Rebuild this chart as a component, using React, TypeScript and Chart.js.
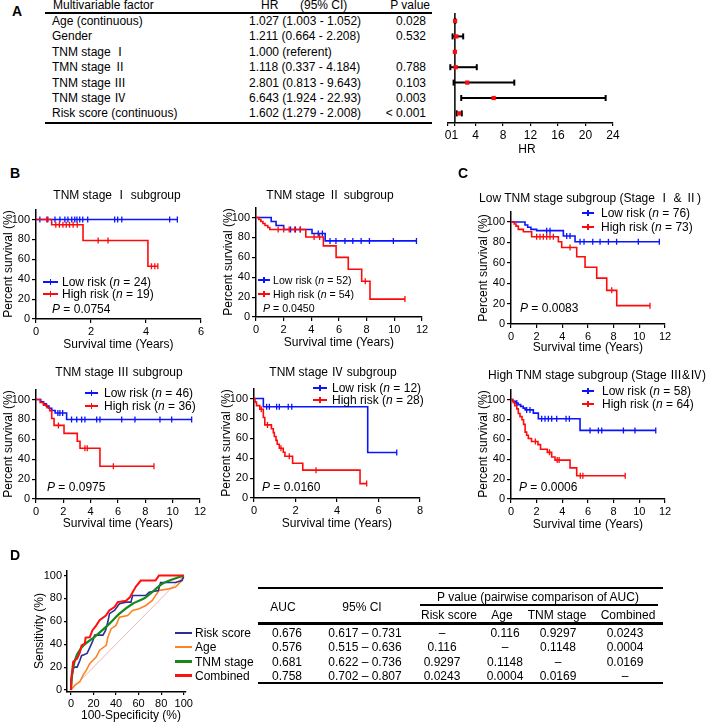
import React, { useEffect, useRef } from "react";
import { Chart, registerables } from "chart.js";

Chart.register(...registerables);

const FONT = '"Liberation Sans", Arial, "Noto Sans CJK SC", "DejaVu Sans", sans-serif';
Chart.defaults.font.family = FONT;
Chart.defaults.color = "#000";

const BLUE = "#0a14ff";
const RED = "#ff0a0a";

// ---------------- Panel A data ----------------
const factorNames = ["Age (continuous)", "Gender", "TNM stage Ⅰ", "TMN stage Ⅱ", "TNM stage Ⅲ", "TNM stage Ⅳ", "Risk score (continuous)"];
const hrLabels = ["1.027 (1.003 - 1.052)", "1.211 (0.664 - 2.208)", "1.000 (referent)", "1.118 (0.337 - 4.184)", "2.801 (0.813 - 9.643)", "6.643 (1.924 - 22.93)", "1.602 (1.279 - 2.008)"];
const pLabels = ["0.028", "0.532", "", "0.788", "0.103", "0.003", "< 0.001"];
const hrValues = [1.027, 1.211, 1.0, 1.118, 2.801, 6.643, 1.602];
const ciLow = [1.003, 0.664, NaN, 0.337, 0.813, 1.924, 1.279];
const ciHigh = [1.052, 2.208, NaN, 4.184, 9.643, 22.93, 2.008];
const forestTicks = [0, 1, 4, 8, 12, 16, 20, 24];

// ---------------- Kaplan-Meier data (years, % survival) ----------------
const ticks6 = [0, 2, 4, 6];
const ticks8 = [0, 2, 4, 6, 8];
const ticks12 = [0, 2, 4, 6, 8, 10, 12];
const kmYTicks = [0, 20, 40, 60, 80, 100];

const stage1LowTimes: number[] = [];
const stage1LowSurv: number[] = [];
const stage1LowCensor = [0.14, 0.43, 0.69, 0.87, 1.05, 1.16, 1.3, 1.41, 1.49, 1.59, 1.7, 1.88, 2.86, 2.97, 3.12, 4.86, 5.14];
const stage1HighTimes = [0.57, 1.71, 4.07];
const stage1HighSurv = [94.7, 79, 53];
const stage1HighCensor = [0.39, 0.72, 0.85, 0.98, 1.1, 1.22, 1.35, 1.5, 2.26, 2.62, 4.2, 4.32, 4.43];

const stage2LowTimes = [1.1, 1.45, 2.0, 4.05, 5.0];
const stage2LowSurv = [96, 92, 88, 84, 76.5];
const stage2LowCensor = [2.5, 2.85, 3.2, 4.5, 4.8, 5.35, 5.78, 6.43, 7.0, 7.6, 8.2, 9.93, 11.6];
const stage2HighTimes = [0.2, 0.35, 0.5, 0.65, 0.85, 1.0, 3.6, 4.87, 5.79, 6.67, 7.64, 8.24];
const stage2HighSurv = [98, 96, 94, 92, 90, 88, 80.5, 71.5, 60, 48, 36, 18];
const stage2HighCensor = [1.6, 2.0, 2.4, 2.8, 3.2, 4.2, 4.6, 7.9, 10.77];

const stage3LowTimes = [0.35, 0.55, 0.75, 0.95, 1.15, 1.4, 2.24];
const stage3LowSurv = [97.8, 95.6, 93.4, 91.2, 89, 86.5, 80];
const stage3LowCensor = [1.6, 1.75, 1.95, 2.6, 2.98, 3.34, 3.58, 4.44, 4.68, 6.27, 7.24, 9.07, 9.93, 11.39];
const stage3HighTimes = [0.3, 0.55, 0.8, 1.0, 1.15, 1.32, 2.05, 3.02, 3.22, 4.68];
const stage3HighSurv = [97, 94.4, 91.7, 88.9, 81, 74, 66, 58, 51, 33];
const stage3HighCensor = [1.64, 3.58, 3.75, 5.66, 8.63];

const stage4LowTimes = [0.45, 5.48];
const stage4LowSurv = [91.7, 45.8];
const stage4LowCensor = [0.61, 0.74, 1.09, 1.22, 1.65, 1.82, 6.88];
const stage4HighTimes = [0.05, 0.12, 0.28, 0.45, 0.52, 0.84, 0.93, 0.98, 1.06, 1.12, 1.22, 1.41, 1.49, 1.86, 2.35, 5.11];
const stage4HighSurv = [96.4, 92.9, 89.3, 81, 73.5, 69.6, 65.7, 61.8, 57.9, 54, 50, 46, 42, 35, 28, 14.5];
const stage4HighCensor = [0.35, 0.65, 1.3, 1.7, 2.99, 5.43];

const lowTnmLowTimes = [1.09, 1.3, 1.55, 2.0, 4.08, 4.99];
const lowTnmLowSurv = [97, 94.8, 92.8, 91.5, 86.3, 80.7];
const lowTnmLowCensor = [2.78, 3.04, 4.34, 4.6, 5.38, 5.69, 6.37, 6.94, 7.59, 8.23, 9.92, 11.56];
const lowTnmHighTimes = [0.25, 0.39, 0.57, 0.96, 1.61, 3.69, 3.95, 5.12, 5.77, 6.68, 7.46, 8.24];
const lowTnmHighSurv = [98, 96, 92.8, 90.5, 85.6, 80.7, 75, 66, 55.6, 45, 33, 18];
const lowTnmHighCensor = [2.0, 2.26, 2.52, 2.78, 3.04, 3.3, 4.6, 7.85, 10.83];

const highTnmLowTimes = [0.15, 0.35, 0.55, 0.75, 0.95, 1.1, 1.74, 2.13, 5.38];
const highTnmLowSurv = [98.3, 96.6, 94.9, 93.1, 91.4, 89.6, 86.3, 80.7, 69];
const highTnmLowCensor = [0.45, 1.22, 1.48, 2.39, 2.65, 2.91, 3.17, 3.56, 4.29, 4.55, 6.16, 6.81, 7.07, 8.76, 9.66, 11.28];
const highTnmHighTimes = [0.1, 0.18, 0.3, 0.45, 0.57, 0.7, 0.86, 0.98, 1.1, 1.22, 1.35, 1.6, 2.1, 2.3, 2.83, 3.17, 3.43, 4.6, 5.12];
const highTnmHighSurv = [98.4, 96.9, 93.8, 90.6, 85.9, 82.8, 79.7, 75, 67.2, 64.1, 60.9, 57.8, 54.7, 50, 46.9, 42.2, 39.1, 31.3, 23.4];
const highTnmHighCensor = [1.9, 3.0, 3.6, 3.75, 5.4, 5.6, 8.9];

// ---------------- Panel D data ----------------
const rocTicks = [0, 20, 40, 60, 80, 100];
const riskFpr = [0, 0, 2.6, 5.5, 8, 9.4, 14.3, 16.7, 19.6, 21, 28.4, 30.7, 32.7, 34.2, 38.6, 43, 48.8, 53.2, 54.7, 66.4, 69.3, 77.5, 79.5, 92.7, 98.5, 100];
const riskTpr = [0, 8.7, 20, 20, 26, 30, 32, 37, 43.5, 48, 48, 52, 59.4, 66.7, 69.6, 75.4, 76.8, 76.8, 82.6, 82.6, 85.5, 87, 94, 94, 95.7, 99];
const ageFpr = [0, 3.5, 7.9, 10.8, 13.7, 16.7, 19.6, 22.5, 25.4, 31.3, 32.7, 35.7, 40, 43, 50.3, 54.7, 60.5, 66.4, 72.2, 78, 86.8, 92.7, 97, 100];
const ageTpr = [0, 4.3, 7.2, 13, 17.4, 23.2, 26, 29, 34.8, 39, 46, 53.6, 56.5, 63.7, 65, 69.6, 71, 73.9, 78.3, 87, 88.4, 89.9, 94.2, 100];
const tnmFpr = [0, 1, 3.5, 9.4, 21, 34.2, 43, 54.7, 66.4, 81, 100];
const tnmTpr = [0, 13, 26, 37, 46.4, 58, 66.7, 75.4, 81, 92.8, 100];
const combFpr = [0, 0.6, 2, 5.5, 8, 9.4, 12.3, 13, 16.7, 19, 22.5, 25.4, 31, 34, 38.6, 41.5, 48.8, 52.3, 54.7, 57.6, 62, 75, 78, 100];
const combTpr = [0, 13, 24.6, 27.5, 33, 39, 40.6, 45.8, 46, 52, 56.5, 61, 65, 69.5, 72.5, 76.8, 78, 81, 85.5, 90.4, 95.7, 95.7, 100, 100];
const refDiag = [0, 100];

const rocNames = ["Risk score", "Age", "TNM stage", "Combined"];
const aucValues = ["0.676", "0.576", "0.681", "0.758"];
const aucCI = ["0.617 – 0.731", "0.515 – 0.636", "0.622 – 0.736", "0.702 – 0.807"];
const pairHeaders = ["Risk score", "Age", "TNM stage", "Combined"];
const pairP = [
  ["–", "0.116", "0.9297", "0.0243"],
  ["0.116", "–", "0.1148", "0.0004"],
  ["0.9297", "0.1148", "–", "0.0169"],
  ["0.0243", "0.0004", "0.0169", "–"],
];

// ---------------- helpers ----------------
type Curve = { times: number[]; surv: number[]; end: number; censor: number[] };
const curve = (times: number[], surv: number[], censor: number[]): Curve => ({
  times, surv, censor, end: censor[censor.length - 1],
});

function stepPoints(c: Curve) {
  const pts = [{ x: 0, y: 100 }];
  c.times.forEach((t, i) => pts.push({ x: t, y: c.surv[i] }));
  pts.push({ x: c.end, y: c.surv.length ? c.surv[c.surv.length - 1] : 100 });
  return pts;
}
function survAt(c: Curve, t: number) {
  let s = 100;
  c.times.forEach((ti, i) => { if (ti <= t) s = c.surv[i]; });
  return s;
}

function linAxis(min: number, max: number, ticks: number[], size: number, fontSize: number, horizontal: boolean, tickLen = 4, extra: any = {}) {
  return {
    type: "linear",
    min, max,
    afterBuildTicks: (s: any) => { s.ticks = ticks.map((v) => ({ value: v })); },
    afterFit: (s: any) => { if (horizontal) s.height = size; else s.width = size; },
    ticks: { font: { family: FONT, size: fontSize }, color: "#000", padding: 2, maxRotation: 0, minRotation: 0, autoSkip: false },
    grid: { drawOnChartArea: false, drawTicks: true, tickLength: tickLen, color: "#000", lineWidth: 1.2 },
    border: { display: true, color: "#000", width: 1.5 },
    ...extra,
  };
}

function ChartCanvas({ left, top, width, height, make }: any) {
  const ref = useRef<HTMLCanvasElement>(null);
  useEffect(() => {
    const chart = new Chart(ref.current as HTMLCanvasElement, make());
    return () => chart.destroy();
  }, []);
  return <canvas ref={ref} width={width} height={height} style={{ position: "absolute", left, top, width, height }} />;
}

function Txt({ x, y, a = "l", s = 12, b = false, children, st = {} }: any) {
  const lh = Math.round(s * 1.2);
  const base: any = {
    position: "absolute", top: y - lh / 2, lineHeight: lh + "px", fontSize: s, fontFamily: FONT,
    fontWeight: b ? "bold" : "normal", whiteSpace: "nowrap", color: "#000", ...st,
  };
  if (a === "l") base.left = x;
  else if (a === "c") { base.left = x - 200; base.width = 400; base.textAlign = "center"; }
  else { base.left = x - 400; base.width = 400; base.textAlign = "right"; }
  return <div style={base}>{children}</div>;
}

function VTxt({ x, y, s = 12, children }: any) {
  const lh = Math.round(s * 1.2);
  return (
    <div style={{ position: "absolute", left: x - 150, top: y - lh / 2, width: 300, lineHeight: lh + "px", fontSize: s, fontFamily: FONT, textAlign: "center", whiteSpace: "nowrap", transform: "rotate(-90deg)", transformOrigin: "50% 50%" }}>
      {children}
    </div>
  );
}

function Rule({ x1, x2, y, w = 2 }: any) {
  return <div style={{ position: "absolute", left: x1, top: y - w / 2, width: x2 - x1, height: w, background: "#000" }} />;
}

function LegLine({ x1, x2, y, color, w = 1.6, tick = 6 }: any) {
  return (
    <>
      <div style={{ position: "absolute", left: x1, top: y - w / 2, width: x2 - x1, height: w, background: color }} />
      {tick ? <div style={{ position: "absolute", left: (x1 + x2) / 2 - 0.65, top: y - tick / 2, width: 1.3, height: tick, background: color }} /> : null}
    </>
  );
}

// ---------------- KM panel ----------------
function KMPanel({ p }: any) {
  const yTop = p.y0 - 1.1 * (p.y0 - p.y100);
  const cLeft = p.x0 - 34;
  const cTop = Math.floor(yTop) - 8;
  const padTop = yTop - cTop;
  const cW = p.x1 - p.x0 + 34 + 14;
  const cH = p.y0 - cTop + 22;
  const ls = p.ls || 12;
  const censorSet = (c: Curve, color: string) => ({
    data: c.censor.map((t) => ({ x: t, y: survAt(c, t) })),
    showLine: false, pointStyle: "line", pointRotation: 90, pointRadius: 3,
    pointBorderWidth: 1.3, pointBorderColor: color, borderColor: color,
  });
  const lineSet = (c: Curve, color: string) => ({
    data: stepPoints(c), borderColor: color, borderWidth: 1.6, stepped: "before", pointRadius: 0, fill: false,
  });
  const make = () => ({
    type: "line",
    data: {
      datasets: [
        censorSet(p.high, RED), lineSet(p.high, RED),
        censorSet(p.low, BLUE), lineSet(p.low, BLUE),
      ],
    },
    options: {
      responsive: false, animation: false, devicePixelRatio: 1, events: [],
      layout: { padding: { left: 0, top: padTop, right: 14, bottom: 0 } },
      plugins: { legend: { display: false }, tooltip: { enabled: false } },
      scales: {
        x: linAxis(0, p.xMax, p.xTicks, 22, 11, true),
        y: linAxis(0, 110, kmYTicks, 34, 11, false),
      },
    },
  });
  return (
    <>
      <ChartCanvas left={cLeft} top={cTop} width={cW} height={cH} make={make} />
      <Txt x={p.tx} y={p.ty} a="c">{p.title}</Txt>
      <VTxt x={p.x0 - 28} y={(yTop + p.y0) / 2}>Percent survival (%)</VTxt>
      <Txt x={(p.x0 + p.x1) / 2} y={p.y0 + p.xly} a="c">Survival time (Years)</Txt>
      <LegLine x1={p.lx1} x2={p.lx2} y={p.ly1} color={BLUE} />
      <Txt x={p.ltx} y={p.ly1} s={ls}>Low risk (<i>n</i> = {p.nLow})</Txt>
      <LegLine x1={p.lx1} x2={p.lx2} y={p.ly2} color={RED} />
      <Txt x={p.ltx} y={p.ly2} s={ls}>High risk (<i>n</i> = {p.nHigh})</Txt>
      <Txt x={p.px} y={p.py} s={ls}><i>P</i> = {p.p}</Txt>
    </>
  );
}

const kmPanels = [
  { x0: 36, x1: 201, y100: 219, y0: 319, xMax: 6, xTicks: ticks6, xly: 25,
    low: curve(stage1LowTimes, stage1LowSurv, stage1LowCensor), high: curve(stage1HighTimes, stage1HighSurv, stage1HighCensor),
    title: "TNM stage Ⅰ subgroup", tx: 117, ty: 195, lx1: 43, lx2: 58, ltx: 62, ly1: 282, ly2: 294, nLow: 24, nHigh: 19, p: "0.0754", px: 52, py: 309 },
  { x0: 256, x1: 422, y100: 217, y0: 317, xMax: 12, xTicks: ticks12, xly: 25, ls: 10.6,
    low: curve(stage2LowTimes, stage2LowSurv, stage2LowCensor), high: curve(stage2HighTimes, stage2HighSurv, stage2HighCensor),
    title: "TNM stage Ⅱ subgroup", tx: 330, ty: 195, lx1: 258, lx2: 270, ltx: 273, ly1: 280, ly2: 294, nLow: 52, nHigh: 54, p: "0.0450", px: 263, py: 308 },
  { x0: 511, x1: 665, y100: 222, y0: 324, xMax: 12, xTicks: ticks12, xly: 23,
    low: curve(lowTnmLowTimes, lowTnmLowSurv, lowTnmLowCensor), high: curve(lowTnmHighTimes, lowTnmHighSurv, lowTnmHighCensor),
    title: "Low TNM stage subgroup (Stage Ⅰ & Ⅱ)", tx: 590, ty: 198, lx1: 582, lx2: 594, ltx: 601, ly1: 213, ly2: 227, nLow: 76, nHigh: 73, p: "0.0083", px: 520, py: 308 },
  { x0: 36, x1: 200, y100: 399, y0: 499, xMax: 12, xTicks: ticks12, xly: 24,
    low: curve(stage3LowTimes, stage3LowSurv, stage3LowCensor), high: curve(stage3HighTimes, stage3HighSurv, stage3HighCensor),
    title: "TNM stage Ⅲ subgroup", tx: 119, ty: 372, lx1: 85, lx2: 98, ltx: 104, ly1: 393, ly2: 406, nLow: 46, nHigh: 36, p: "0.0975", px: 47, py: 487 },
  { x0: 254, x1: 420, y100: 398, y0: 498, xMax: 8, xTicks: ticks8, xly: 25,
    low: curve(stage4LowTimes, stage4LowSurv, stage4LowCensor), high: curve(stage4HighTimes, stage4HighSurv, stage4HighCensor),
    title: "TNM stage Ⅳ subgroup", tx: 333, ty: 372, lx1: 313, lx2: 327, ltx: 332, ly1: 388, ly2: 400, nLow: 12, nHigh: 28, p: "0.0160", px: 262, py: 487 },
  { x0: 511, x1: 665, y100: 399, y0: 499, xMax: 12, xTicks: ticks12, xly: 25,
    low: curve(highTnmLowTimes, highTnmLowSurv, highTnmLowCensor), high: curve(highTnmHighTimes, highTnmHighSurv, highTnmHighCensor),
    title: "High TNM stage subgroup (Stage Ⅲ&Ⅳ)", tx: 597, ty: 375, lx1: 582, lx2: 594, ltx: 602, ly1: 391, ly2: 404, nLow: 58, nHigh: 64, p: "0.0006", px: 519, py: 487 },
];

// ---------------- Forest ----------------
const ROW0 = 21;
const ROWH = 15.4;

function forestConfig() {
  const datasets: any[] = [];
  datasets.push({
    data: hrValues.map((v, i) => ({ x: v, y: i })), showLine: false, pointStyle: "rect", pointRadius: 3,
    pointBackgroundColor: RED, pointBorderWidth: 0, borderColor: RED,
  });
  hrValues.forEach((_, i) => {
    if (!isNaN(ciLow[i])) {
      datasets.push({
        data: [{ x: ciLow[i], y: i }, { x: ciHigh[i], y: i }], borderColor: "#000", borderWidth: 2,
        pointStyle: "line", pointRotation: 90, pointRadius: 3, pointBorderWidth: 2, pointBorderColor: "#000",
      });
    }
  });
  const yMin = -(ROW0 - 13) / ROWH;
  const yMax = (123 - ROW0) / ROWH;
  datasets.push({ data: [{ x: 1, y: yMin }, { x: 1, y: yMax }], borderColor: "#000", borderWidth: 1.5, pointRadius: 0 });
  return {
    type: "line",
    data: { datasets },
    options: {
      responsive: false, animation: false, devicePixelRatio: 1, events: [],
      layout: { padding: { left: 28, top: 13, right: 22, bottom: 0 } },
      plugins: { legend: { display: false }, tooltip: { enabled: false } },
      scales: {
        x: linAxis(0, 24, forestTicks, 37, 12, true, 3),
        y: { type: "linear", min: yMin, max: yMax, reverse: true, display: false },
      },
    },
  };
}

// ---------------- ROC ----------------
const ROC_NAVY = "#2b2f94";
const ROC_ORANGE = "#ff8222";
const ROC_GREEN = "#17891a";
const ROC_RED = "#ff1010";
const rocColors = [ROC_NAVY, ROC_ORANGE, ROC_GREEN, ROC_RED];

function rocConfig() {
  const pts = (xs: number[], ys: number[]) => xs.map((x, i) => ({ x, y: ys[i] }));
  return {
    type: "line",
    data: {
      datasets: [
        { data: pts(combFpr, combTpr), borderColor: ROC_RED, borderWidth: 2, pointRadius: 0 },
        { data: pts(tnmFpr, tnmTpr), borderColor: ROC_GREEN, borderWidth: 2.2, pointRadius: 0, cubicInterpolationMode: "monotone" },
        { data: pts(riskFpr, riskTpr), borderColor: ROC_NAVY, borderWidth: 1.6, pointRadius: 0 },
        { data: pts(ageFpr, ageTpr), borderColor: ROC_ORANGE, borderWidth: 1.6, pointRadius: 0 },
        { data: pts(refDiag, refDiag), borderColor: "#e3a3a3", borderWidth: 0.8, pointRadius: 0 },
      ],
    },
    options: {
      responsive: false, animation: false, devicePixelRatio: 1, events: [],
      layout: { padding: { left: 0, top: 8, right: 8, bottom: 0 } },
      plugins: { legend: { display: false }, tooltip: { enabled: false } },
      scales: {
        x: linAxis(-3.5, 101.75, rocTicks, 22, 11, true, 3),
        y: linAxis(-1.74, 104.35, rocTicks, 45, 11, false, 3),
      },
    },
  };
}

// ---------------- App ----------------
export default function App() {
  const colHR = 249;
  const dRows = [633, 647, 661.5, 675.5];
  const pCols = [442, 505, 558, 625];
  return (
    <div style={{ position: "absolute", left: 0, top: 0, width: 709, height: 722, background: "#fff", overflow: "hidden", fontFamily: FONT }}>
      {/* Panel A */}
      <Txt x={12} y={11} s={14} b>A</Txt>
      <Txt x={53} y={5}>Multivariable factor</Txt>
      <Txt x={261} y={5}>HR</Txt>
      <Txt x={300} y={5}>(95% CI)</Txt>
      <Txt x={430} y={5} a="r">P value</Txt>
      <Rule x1={45} x2={432} y={13} w={2.5} />
      {factorNames.map((f, i) => (
        <React.Fragment key={"r" + i}>
          <Txt x={52} y={ROW0 + i * ROWH}>{f}</Txt>
          <Txt x={colHR} y={ROW0 + i * ROWH}>{hrLabels[i]}</Txt>
          <Txt x={426} y={ROW0 + i * ROWH} a="r">{pLabels[i]}</Txt>
        </React.Fragment>
      ))}
      <Rule x1={45} x2={432} y={123} w={2.5} />
      <ChartCanvas left={420} top={0} width={215} height={160} make={forestConfig} />
      <Txt x={527} y={149} a="c">HR</Txt>

      {/* Panels B & C */}
      <Txt x={10} y={173} s={14} b>B</Txt>
      <Txt x={458} y={173} s={14} b>C</Txt>
      {kmPanels.map((p, i) => <KMPanel key={"km" + i} p={p} />)}

      {/* Panel D */}
      <Txt x={10} y={555} s={14} b>D</Txt>
      <ChartCanvas left={22} top={562} width={173} height={152} make={rocConfig} />
      <VTxt x={39} y={631}>Sensitivity (%)</VTxt>
      <Txt x={131} y={715} a="c">100-Specificity (%)</Txt>
      {rocNames.map((n, i) => (
        <React.Fragment key={"lg" + i}>
          <LegLine x1={175} x2={192} y={dRows[i]} color={rocColors[i]} w={2.5} tick={0} />
          <Txt x={195} y={dRows[i]}>{n}</Txt>
        </React.Fragment>
      ))}

      <Rule x1={258} x2={663} y={588} w={2} />
      <Txt x={538} y={597} a="c">P value (pairwise comparison of AUC)</Txt>
      <Rule x1={420} x2={658} y={605} w={1.5} />
      <Txt x={283} y={607} a="c">AUC</Txt>
      <Txt x={362} y={607} a="c">95% CI</Txt>
      <Txt x={449} y={615} a="c">{pairHeaders[0]}</Txt>
      <Txt x={502} y={615} a="c">{pairHeaders[1]}</Txt>
      <Txt x={557} y={615} a="c">{pairHeaders[2]}</Txt>
      <Txt x={628} y={615} a="c">{pairHeaders[3]}</Txt>
      <Rule x1={258} x2={663} y={623.5} w={2.5} />
      {aucValues.map((v, i) => (
        <React.Fragment key={"d" + i}>
          <Txt x={287} y={dRows[i]} a="c">{v}</Txt>
          <Txt x={365} y={dRows[i]} a="c">{aucCI[i]}</Txt>
          {pairP[i].map((pv, j) => (
            <Txt key={"pp" + j} x={pCols[j]} y={dRows[i]} a="c">{pv}</Txt>
          ))}
        </React.Fragment>
      ))}
      <Rule x1={258} x2={663} y={683} w={2.5} />
    </div>
  );
}
